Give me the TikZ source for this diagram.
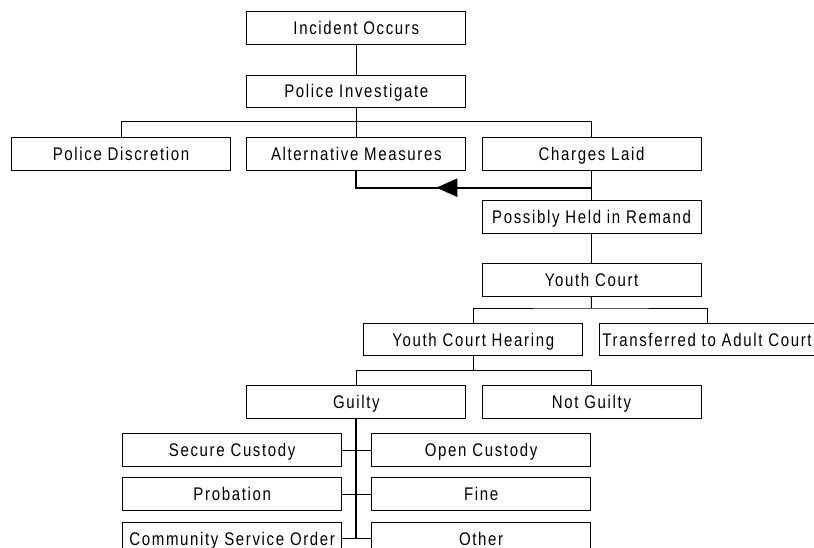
\documentclass[tikz,border=0pt]{standalone}
\usepackage{fontspec}
\setmainfont{Liberation Sans}[FakeStretch=0.82,LetterSpace=9]
\usetikzlibrary{positioning,arrows.meta,decorations.markings}

\tikzset{
  stage/.style={draw, line width=0.9pt, minimum width=219pt, minimum height=32.5pt,
    inner sep=0pt, text height=13pt, text depth=0pt,
    font=\fontsize{18.3}{20}\selectfont},
  link/.style={line width=0.9pt},
  trunk/.style={line width=2pt},
  goback/.style={line width=2pt, postaction={decorate},
    decoration={markings, mark=at position 155pt with {\arrow{Triangle[length=21pt,width=18pt]}}}}
}

\begin{document}
\begin{tikzpicture}[x=1pt,y=-1pt]
  \useasboundingbox (0,0) rectangle (814,548);
  % top of the chart
  \node[stage] (inc) at (356.3,28) {Incident Occurs};
  \node[stage, below=30pt of inc] (inv) {Police Investigate};
  \node[stage, below=29.3pt of inv] (alt) {Alternative Measures};
  \node[stage, left=15.4pt of alt] (disc) {Police Discretion};
  \node[stage, right=15.4pt of alt] (chg) {Charges Laid};
  \node[stage, below=29.4pt of chg] (rem) {Possibly Held in Remand};
  \node[stage, below=29.7pt of rem] (yc) {Youth Court};
  % court
  \node[stage] (hear) at (473.3,339.5) {Youth Court Hearing};
  \node[stage, minimum width=214.6pt, right=16pt of hear] (adult) {Transferred to Adult Court};
  \node[stage] (guilty) at (356.3,401.7) {Guilty};
  \node[stage, right=15.3pt of guilty] (notg) {Not Guilty};
  % sentences
  \node[stage] (secure) at (232.2,450) {Secure Custody};
  \node[stage, below=10.7pt of secure] (prob) {Probation};
  \node[stage, below=11pt of prob] (comm) {Community Service Order};
  \node[stage, right=29pt of secure] (open) {Open Custody};
  \node[stage, right=29pt of prob] (fine) {Fine};
  \node[stage, right=29pt of comm] (other) {Other};

  \coordinate (bus1) at (356.3,121.3);
  \coordinate (bus2) at (591.3,308);
  \coordinate (bus3) at (473.3,370.7);
  \coordinate (turn) at (591.3,187.7);

  \draw[link] (inc) -- (inv);
  \draw[link] (inv) -- (alt);
  \draw[link] (disc.north) |- (bus1) -| (chg.north);
  \draw[link] (chg) -- (rem);
  \draw[goback] (turn) -| (alt.south);
  \draw[link] (rem) -- (yc);
  \draw[link] (yc) -- (bus2);
  \draw[link] (hear.north) |- (bus2) -| (adult.north);
  \draw[link] (hear) -- (bus3);
  \draw[link] (guilty.north) |- (bus3) -| (notg.north);
  \draw[trunk] (guilty.south) -- (guilty.south |- comm.east);
  \draw[link] (secure) -- (open);
  \draw[link] (prob) -- (fine);
  \draw[link] (comm) -- (other);
\end{tikzpicture}
\end{document}
